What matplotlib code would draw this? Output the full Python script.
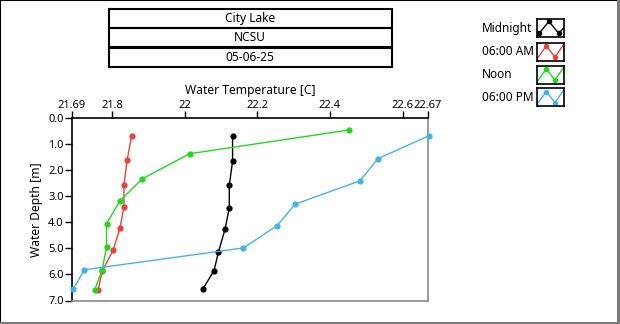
import matplotlib
matplotlib.use("Agg")
import matplotlib.pyplot as plt
from matplotlib.patches import Rectangle

plt.rcParams['font.family'] = ['Noto Sans', 'DejaVu Sans']
plt.rcParams['font.size'] = 8

# Profile readings: temperature [C] vs depth [m]
series_names = ["Midnight", "06:00 AM", "Noon", "06:00 PM"]
series_colors = ["#000000", "#e8413f", "#22d81e", "#48b2e8"]

midnight_temp = [22.132, 22.132, 22.123, 22.123, 22.111, 22.093, 22.081, 22.051]
midnight_depth = [0.68, 1.65, 2.58, 3.45, 4.27, 5.15, 5.85, 6.54]

am6_temp = [21.854, 21.842, 21.833, 21.833, 21.822, 21.803, 21.773, 21.762]
am6_depth = [0.67, 1.59, 2.55, 3.40, 4.22, 5.07, 5.87, 6.60]

noon_temp = [22.453, 22.014, 21.884, 21.822, 21.785, 21.785, 21.773, 21.752]
noon_depth = [0.45, 1.36, 2.32, 3.17, 4.05, 4.95, 5.83, 6.60]

pm6_temp = [22.673, 22.532, 22.483, 22.304, 22.254, 22.162, 21.724, 21.694]
pm6_depth = [0.67, 1.55, 2.40, 3.30, 4.13, 4.98, 5.82, 6.55]

x_ticks = [21.69, 21.8, 22, 22.2, 22.4, 22.6, 22.67]
x_tick_labels = ["21.69", "21.8", "22", "22.2", "22.4", "22.6", "22.67"]
y_ticks = [0, 1, 2, 3, 4, 5, 6, 7]
header_rows = ["City Lake", "NCSU", "05-06-25"]

W, H = 620, 324
fig = plt.figure(figsize=(W / 100, H / 100), dpi=100)


def fx(px):
    return px / W


def fy(py):
    return 1 - py / H


# outer panel frame
fig.patches.append(Rectangle((0, 0), 1, 1, transform=fig.transFigure, fill=False,
                             edgecolor="black", linewidth=1.5))
fig.patches.append(Rectangle((fx(617), 0), fx(3), 1, transform=fig.transFigure,
                             facecolor="#7a7a7a", edgecolor="none"))
fig.patches.append(Rectangle((0, 0), 1, fy(322), transform=fig.transFigure,
                             facecolor="#7a7a7a", edgecolor="none"))

# header box with three rows
row_edges = [9, 28, 47.5, 67]
for i, text in enumerate(header_rows):
    top, bot = row_edges[i], row_edges[i + 1]
    fig.patches.append(Rectangle((fx(108.5), fy(bot)), fx(283), fy(top) - fy(bot),
                                 transform=fig.transFigure, fill=False,
                                 edgecolor="black", linewidth=1.5))
    fig.text(fx(250), fy((top + bot) / 2), text, ha="center", va="center", fontsize=8.6)

# main plot
ax = fig.add_axes([fx(72), fy(300.5), fx(356), fy(118.3) - fy(300.5)])
all_series = [(midnight_temp, midnight_depth), (am6_temp, am6_depth),
              (noon_temp, noon_depth), (pm6_temp, pm6_depth)]
for (t, d), c in zip(all_series, series_colors):
    ax.plot(t, d, color=c, linewidth=1.0, marker="o", markersize=4.5,
            markeredgewidth=0, clip_on=False, zorder=3)

ax.set_xlim(21.69, 22.67)
ax.set_ylim(7, 0)
ax.xaxis.tick_top()
ax.xaxis.set_label_position("top")
ax.set_xticks(x_ticks)
ax.set_xticklabels(x_tick_labels)
ax.set_yticks(y_ticks)
ax.set_yticklabels([f"{v:.1f}" for v in y_ticks])
ax.tick_params(axis="x", direction="out", length=5, width=1, pad=0.5, labelsize=8)
ax.tick_params(axis="y", direction="out", length=5, width=1, pad=1, labelsize=8)
ax.set_xlabel("Water Temperature [C]", fontsize=8.7, labelpad=4)
ax.set_ylabel("Water Depth [m]", fontsize=8.7, labelpad=4)
for side in ["left", "top"]:
    ax.spines[side].set_color("black")
    ax.spines[side].set_linewidth(1.2)
for side in ["right", "bottom"]:
    ax.spines[side].set_color("#8a8a8a")
    ax.spines[side].set_linewidth(1.2)

# legend: name plus a small boxed sample of each trace
icon_x = [[0.08, 0.45, 0.82, 1.05], [-0.05, 0.35, 0.68, 1.05]]
icon_y = [[0.22, 0.88, 0.22, 0.6], [0.0, 0.82, 0.2, 1.0]]
icon_tops = [19.3, 42.7, 65.7, 88.3]
for i, (name, c) in enumerate(zip(series_names, series_colors)):
    top = icon_tops[i]
    fig.text(fx(482), fy(top + 9), name, ha="left", va="center", fontsize=8.5)
    iax = fig.add_axes([fx(537), fy(top + 18), fx(26.5), fy(top) - fy(top + 18)])
    k = 0 if i == 0 else 1
    iax.plot(icon_x[k], icon_y[k], color=c, linewidth=1.0)
    iax.plot(icon_x[k][:3], icon_y[k][:3], linestyle="none",
             marker="o", markersize=4, markeredgewidth=0, color=c)
    iax.set_xlim(0, 1)
    iax.set_ylim(0, 1)
    iax.set_xticks([])
    iax.set_yticks([])
    for s in iax.spines.values():
        s.set_linewidth(1.2)
        s.set_color("black")

fig.savefig("out.png", dpi=100)
